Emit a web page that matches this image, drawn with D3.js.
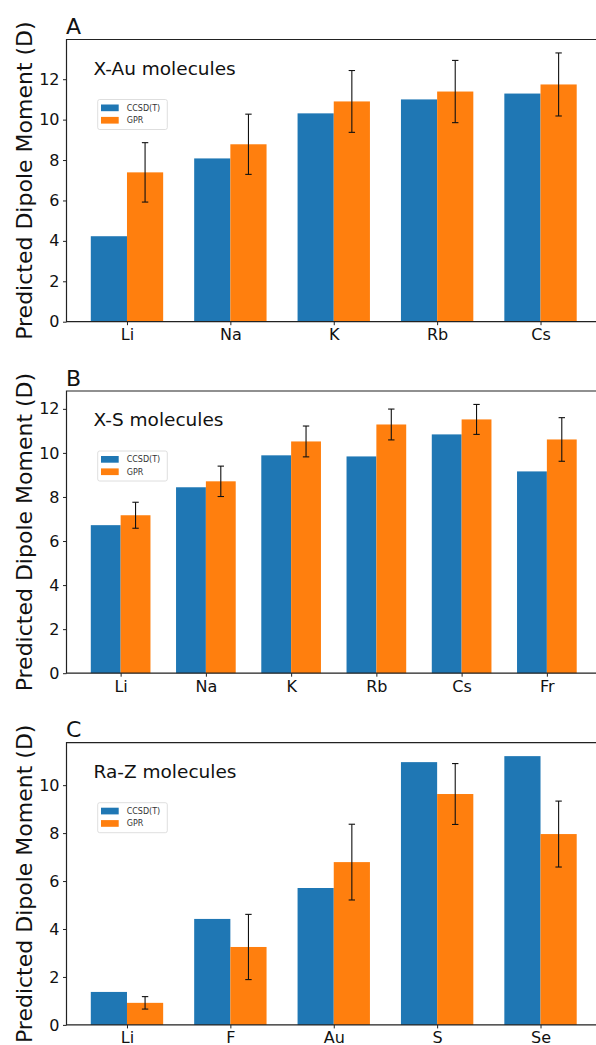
<!DOCTYPE html>
<html>
<head>
<meta charset="utf-8">
<script src="https://cdn.jsdelivr.net/npm/d3@7"></script>
<style>
  body { margin: 0; background: #fff; }
  svg { display: block; font-family: "DejaVu Sans", sans-serif; }
</style>
</head>
<body>
<div id="chart"></div>
<script>
const width = 596
const height = 1045

// panel A: X-Au molecules
const auCats = ["Li", "Na", "K", "Rb", "Cs"]
const auCcsd = [4.23, 8.08, 10.31, 11.0, 11.29]
const auGpr = [7.39, 8.78, 10.9, 11.39, 11.74]
const auErr = [1.47, 1.49, 1.53, 1.54, 1.56]

// panel B: X-S molecules
const sCats = ["Li", "Na", "K", "Rb", "Cs", "Fr"]
const sCcsd = [6.72, 8.44, 9.89, 9.84, 10.84, 9.16]
const sGpr = [7.17, 8.71, 10.52, 11.29, 11.52, 10.61]
const sErr = [0.59, 0.69, 0.70, 0.70, 0.68, 0.99]

// panel C: Ra-Z molecules
const raCats = ["Li", "F", "Au", "S", "Se"]
const raCcsd = [1.375, 4.42, 5.71, 10.96, 11.21]
const raGpr = [0.92, 3.25, 6.79, 9.63, 7.96]
const raErr = [0.26, 1.36, 1.58, 1.27, 1.375]

const seriesNames = ["CCSD(T)", "GPR"]
const colors = ["#1f77b4", "#ff7f0e"]

const panels = [
  { label: "A", title: "X-Au molecules", cats: auCats, ccsd: auCcsd, gpr: auGpr, err: auErr, top: 39.5 },
  { label: "B", title: "X-S molecules", cats: sCats, ccsd: sCcsd, gpr: sGpr, err: sErr, top: 391 },
  { label: "C", title: "Ra-Z molecules", cats: raCats, ccsd: raCcsd, gpr: raGpr, err: raErr, top: 742.7 }
]

const axLeft = 66.5
const axWidth = 534.5
const axHeight = 282.2
const barW = 0.35

const svg = d3.select("#chart")
  .append("svg")
  .attr("width", width)
  .attr("height", height)

panels.forEach(p => drawPanel(p))

function drawPanel(p) {
  const n = p.cats.length
  const m = 0.05 * (n - 1 + 2 * barW) // matplotlib style x margins
  const x = d3.scaleLinear()
    .domain([-barW - m, n - 1 + barW + m])
    .range([axLeft, axLeft + axWidth])

  // y limit: 5% above the highest bar or error bar
  const tops = p.ccsd.concat(p.gpr.map((v, i) => v + p.err[i]))
  const ymax = d3.max(tops) * 1.05
  const y = d3.scaleLinear()
    .domain([0, ymax])
    .range([p.top + axHeight, p.top])

  const g = svg.append("g")

  // bars
  g.selectAll(".ccsd")
    .data(p.ccsd)
    .join("rect")
    .attr("x", (d, i) => x(i - barW))
    .attr("width", (d, i) => x(i) - x(i - barW))
    .attr("y", d => y(d))
    .attr("height", d => y(0) - y(d))
    .attr("fill", colors[0])

  g.selectAll(".gpr")
    .data(p.gpr)
    .join("rect")
    .attr("x", (d, i) => x(i))
    .attr("width", (d, i) => x(i + barW) - x(i))
    .attr("y", d => y(d))
    .attr("height", d => y(0) - y(d))
    .attr("fill", colors[1])

  // error bars on GPR
  const eb = g.selectAll(".err")
    .data(p.gpr.map((v, i) => ({ v: v, e: p.err[i], i: i })))
    .join("g")
    .attr("stroke", "#111")
    .attr("stroke-width", 1.1)
  eb.append("line")
    .attr("x1", d => x(d.i + barW / 2)).attr("x2", d => x(d.i + barW / 2))
    .attr("y1", d => y(d.v - d.e)).attr("y2", d => y(d.v + d.e))
  eb.append("line")
    .attr("x1", d => x(d.i + barW / 2) - 3.2).attr("x2", d => x(d.i + barW / 2) + 3.2)
    .attr("y1", d => y(d.v + d.e)).attr("y2", d => y(d.v + d.e))
  eb.append("line")
    .attr("x1", d => x(d.i + barW / 2) - 3.2).attr("x2", d => x(d.i + barW / 2) + 3.2)
    .attr("y1", d => y(d.v - d.e)).attr("y2", d => y(d.v - d.e))

  // axes
  const yAxis = d3.axisLeft(y)
    .tickValues(d3.range(0, ymax, 2))
    .tickFormat(d3.format("d"))
    .tickSize(3.5)
    .tickPadding(3.5)
  const yg = g.append("g")
    .attr("transform", `translate(${axLeft},0)`)
    .call(yAxis)

  const xAxis = d3.axisBottom(x)
    .tickValues(d3.range(n))
    .tickFormat(i => p.cats[i])
    .tickSize(3.5)
    .tickPadding(3.5)
  const xg = g.append("g")
    .attr("transform", `translate(0,${p.top + axHeight})`)
    .call(xAxis)

  ;[yg, xg].forEach(a => {
    a.select(".domain").remove()
    a.selectAll("line").attr("stroke", "#222")
    a.selectAll("text")
      .attr("font-size", 16)
      .attr("font-family", "DejaVu Sans")
      .attr("fill", "#111")
  })

  // spines (left, top, bottom)
  g.append("path")
    .attr("d", `M${axLeft + axWidth},${p.top}H${axLeft}V${p.top + axHeight}H${axLeft + axWidth}`)
    .attr("fill", "none")
    .attr("stroke", "#222")
    .attr("stroke-width", 1.2)

  // y label
  g.append("text")
    .attr("transform", `translate(32,${p.top + axHeight / 2}) rotate(-90)`)
    .attr("text-anchor", "middle")
    .attr("font-size", 22)
    .attr("fill", "#111")
    .text("Predicted Dipole Moment (D)")

  // panel letter
  g.append("text")
    .attr("x", 66)
    .attr("y", p.top - 5.5)
    .attr("font-size", 22)
    .attr("fill", "#111")
    .text(p.label)

  // in-plot title
  g.append("text")
    .attr("x", 93.5)
    .attr("y", p.top + 35)
    .attr("font-size", 18.5)
    .attr("fill", "#111")
    .text(p.title)

  // legend
  const lg = g.append("g")
    .attr("transform", `translate(97.7,${p.top + 60})`)
  lg.append("rect")
    .attr("width", 69.6)
    .attr("height", 30)
    .attr("rx", 2)
    .attr("fill", "#fff")
    .attr("stroke", "#d6d6d6")
    .attr("stroke-width", 0.8)
  seriesNames.forEach((name, k) => {
    lg.append("rect")
      .attr("x", 3.3)
      .attr("y", 5 + k * 12.4)
      .attr("width", 17.7)
      .attr("height", 6.7)
      .attr("fill", colors[k])
    lg.append("text")
      .attr("x", 29)
      .attr("y", 11 + k * 12.8)
      .attr("font-size", 8)
      .attr("fill", "#333")
      .text(name)
  })
}
</script>
</body>
</html>
